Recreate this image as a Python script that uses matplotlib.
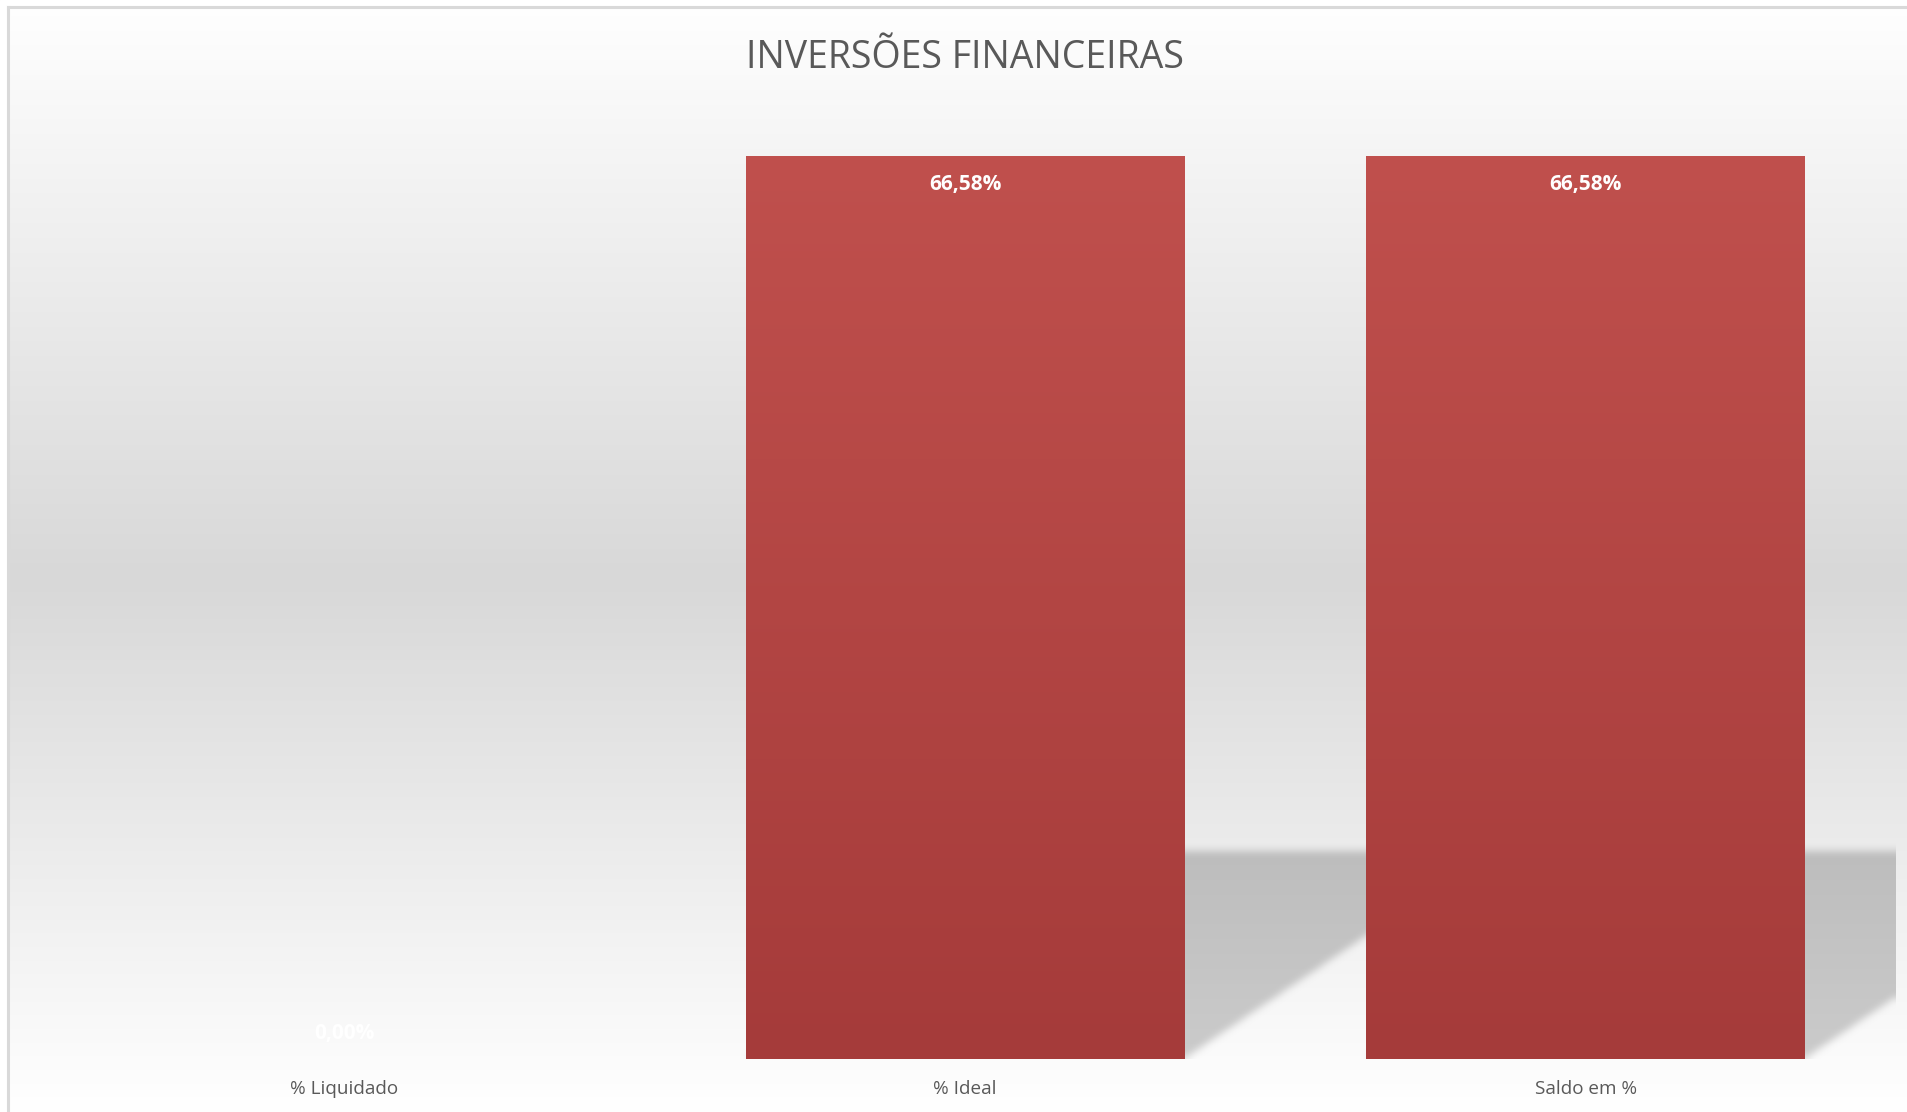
import numpy as np
import matplotlib
matplotlib.use("Agg")
import matplotlib.pyplot as plt
from matplotlib.patches import Rectangle
from matplotlib.path import Path
from matplotlib.colors import LinearSegmentedColormap

plt.rcParams['font.family'] = ['Open Sans', 'DejaVu Sans']

# ---- data ----
title = "INVERSÕES FINANCEIRAS"
categories = ["% Liquidado", "% Ideal", "Saldo em %"]
values = [0.00, 66.58, 66.58]          # percent
y_max = 70.0

W, H, DPI = 1908, 1112, 100
fig = plt.figure(figsize=(W / DPI, H / DPI), dpi=DPI)

# ---- background gradient (whole chart area) ----
bg = fig.add_axes([0, 0, 1, 1], zorder=0)
bg.set_axis_off()
t = np.linspace(0, 1, 512)
grey = 216 / 255
peak = 0.52
prof = np.where(t < peak, t / peak, (1 - t) / (1 - peak))
col = 1 - (1 - grey) * np.clip(prof, 0, 1)
img = np.repeat(col[:, None], 2, axis=1)
bg.imshow(np.dstack([img, img, img]), aspect='auto', extent=[0, 1, 0, 1],
          origin='upper', interpolation='bicubic')
bg.set_xlim(0, 1)
bg.set_ylim(0, 1)
bx, by = 8 / W, 1 - 7 / H
bg.add_patch(Rectangle((0, 0), bx, 1, color='white', zorder=2))
bg.add_patch(Rectangle((0, by), 1, 1 - by, color='white', zorder=2))
bg.plot([bx, bx], [0, by], color='#d9d9d9', lw=2.2, zorder=3)
bg.plot([bx, 1], [by, by], color='#d9d9d9', lw=2.2, zorder=3)

# ---- main axes ----
left, right = 34 / W, 1896 / W
bottom, top = 1 - 1059 / H, 1 - 110 / H
ax = fig.add_axes([left, bottom, right - left, top - bottom], zorder=1)
ax.set_facecolor('none')
x0, x1 = -0.5, len(categories) - 0.5
ax.set_xlim(x0, x1)
ax.set_ylim(0, y_max)
for s in ax.spines.values():
    s.set_visible(False)
ax.set_yticks([])
ax.set_xticks([])

bar_w = 0.707
x = np.arange(len(categories))

# ---- soft perspective shadows (upper right), rasterised with blur ----
pw = int(round((right - left) * W))
ph = int(round((top - bottom) * H))
gx = np.linspace(x0, x1, pw)
gy = np.linspace(y_max, 0, ph)
GX, GY = np.meshgrid(gx, gy)
pts = np.column_stack([GX.ravel(), GY.ravel()])
mask = np.zeros(pw * ph)
shadow_scale = 0.23
shadow_dx = 0.495
for xi, v in zip(x, values):
    if v <= 0:
        continue
    xl, xr = xi - bar_w / 2, xi + bar_w / 2
    hs = v * shadow_scale
    poly = Path([(xl, 0), (xr, 0), (xr + shadow_dx, hs), (xl + shadow_dx, hs), (xl, 0)])
    mask = np.maximum(mask, poly.contains_points(pts).astype(float))
mask = mask.reshape(ph, pw)


def box_blur(a, r, axis):
    k = np.ones(2 * r + 1) / (2 * r + 1)
    return np.apply_along_axis(lambda m: np.convolve(np.pad(m, r, mode='edge'), k, mode='valid'), axis, a)


sub = slice(int(ph * 0.6), ph)
m2 = mask.copy()
blk = m2[sub]
for _ in range(2):
    blk = box_blur(blk, 4, 0)
    blk = box_blur(blk, 4, 1)
m2[sub] = blk
tcol = np.linspace(0, 1, ph)[:, None]
c_top, c_bot = 0xbd / 255, 0xcb / 255
shade = np.clip((tcol - 0.78) / 0.22, 0, 1)
cval = c_top + (c_bot - c_top) * shade
rgba = np.zeros((ph, pw, 4))
rgba[..., 0] = cval
rgba[..., 1] = cval
rgba[..., 2] = cval
rgba[..., 3] = m2
ax.imshow(rgba, extent=[x0, x1, 0, y_max], aspect='auto', origin='upper',
          zorder=2, interpolation='nearest')

# ---- bars with vertical gradient ----
bar_cmap = LinearSegmentedColormap.from_list('bar', ['#c0504d', '#a53b3a'])
bars = ax.bar(x, values, width=bar_w, color='none', edgecolor='none', zorder=3)
for b, v in zip(bars, values):
    if v <= 0:
        continue
    grad = np.linspace(0, 1, 256)[:, None]
    im = ax.imshow(grad, cmap=bar_cmap, aspect='auto',
                   extent=[b.get_x(), b.get_x() + b.get_width(), 0, v],
                   origin='upper', zorder=3)
    im.set_clip_path(b)
ax.set_xlim(x0, x1)
ax.set_ylim(0, y_max)

# ---- data labels ----
for xi, v in zip(x, values):
    lab = f"{v:.2f}".replace('.', ',') + "%"
    off = -20.2 if v > 0 else 18.7
    ax.annotate(lab, (xi, v), xytext=(0, off), textcoords='offset points',
                ha='center', va='center', color='white', fontsize=15,
                fontweight='bold', zorder=5)

# ---- category labels ----
for xi, c in zip(x, categories):
    ax.annotate(c, (xi, 0), xytext=(0, -21.5), textcoords='offset points',
                ha='center', va='center', color='#595959', fontsize=13.6,
                annotation_clip=False)

# ---- title ----
fig.text(965 / W, 1 - 58 / H, title, ha='center', va='center',
         color='#595959', fontsize=27)

fig.savefig('out.png', dpi=DPI)
